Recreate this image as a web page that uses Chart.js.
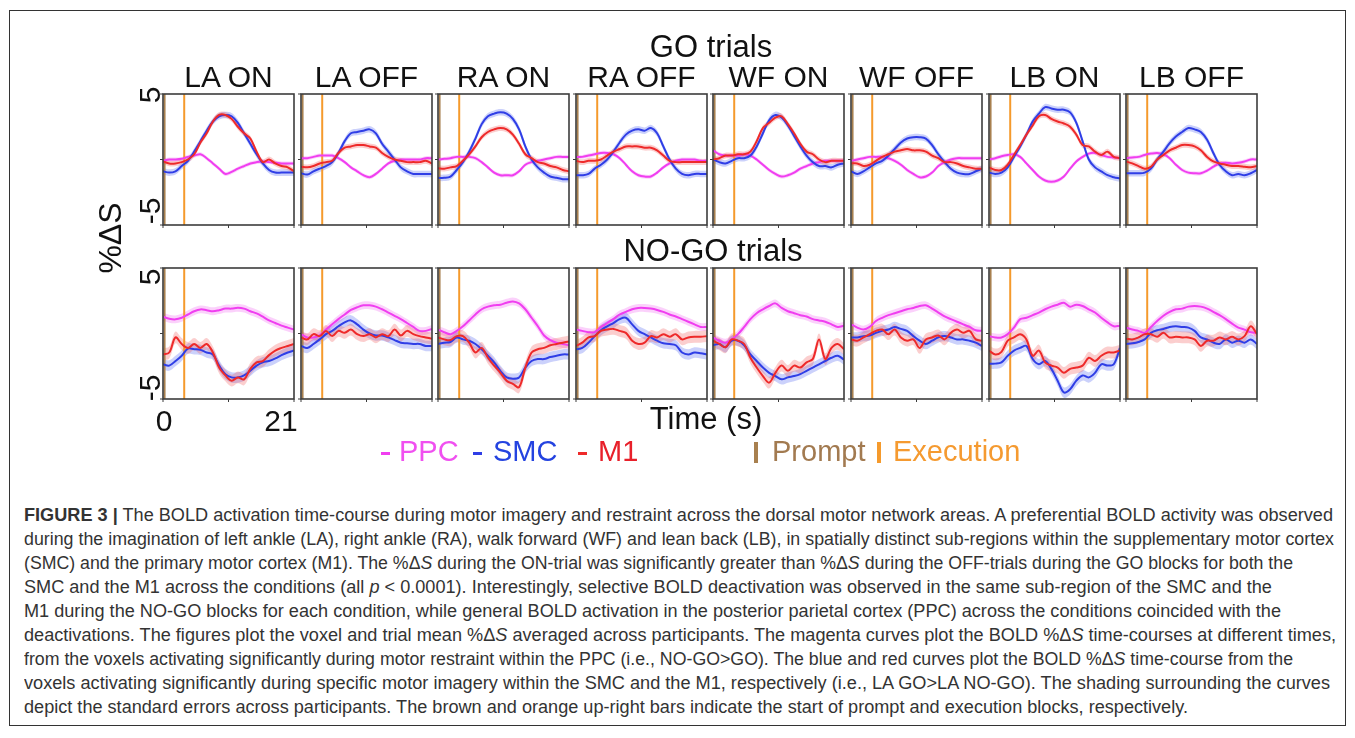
<!DOCTYPE html>
<html>
<head>
<meta charset="utf-8">
<script src="https://cdn.jsdelivr.net/npm/chart.js@4.4.0/dist/chart.umd.min.js"></script>
<style>
  body { margin: 0; background: #fff; width: 1355px; height: 738px; overflow: hidden; position: relative; font-family: "Liberation Sans", Arial, sans-serif; }
  .frame { position: absolute; left: 9px; top: 10px; width: 1337px; height: 716px; border: 1px solid #333; box-sizing: border-box; }
  .lbl { position: absolute; font-size: 30px; line-height: 30px; color: #111; white-space: nowrap; transform: translate(-50%, -50%); }
  .rot { transform: translate(-50%, -50%) rotate(-90deg); }
  .leg { position: absolute; font-size: 29px; line-height: 29px; white-space: nowrap; top: 437px; }
  .mark { position: absolute; }
  canvas { position: absolute; }
  #caption { position: absolute; left: 24px; top: 503px; font-family: "Liberation Sans", Arial, sans-serif; color: #333; font-size: 17.5px; }
  #caption div { line-height: 24px; white-space: nowrap; }
  #caption span { display: inline-block; transform-origin: 0 50%; }
</style>
</head>
<body>
<div class="frame"></div>

<script>
// time axis (s)
const timeSec = [0,1,2,3,4,5,6,7,8,9,10,11,12,13,14,15,16,17,18,19,20,21];
const conditions = ["LA ON","LA OFF","RA ON","RA OFF","WF ON","WF OFF","LB ON","LB OFF"];
const yTicks = [-5, 0, 5];
const xTicks = [0, 10.5, 21];
const promptTime = 0.25;
const execTime = 3.4;

// GO trials, %dS per panel
const goPPC = [
  [-0.1,0.0,0.0,0.05,0.2,0.3,0.4,0.1,-0.3,-0.7,-1.1,-0.95,-0.7,-0.5,-0.3,-0.2,-0.15,-0.2,-0.25,-0.3,-0.3,-0.3],
  [0.1,0.1,0.2,0.3,0.3,0.3,0.1,-0.2,-0.6,-0.9,-1.2,-1.35,-1.1,-0.7,-0.3,-0.1,0.0,0.0,0.0,0.0,0.1,0.1],
  [0.0,0.05,0.1,0.2,0.2,0.2,0.1,-0.2,-0.6,-1.0,-1.2,-1.2,-1.2,-0.9,-0.4,-0.2,-0.1,0.0,0.1,0.2,0.2,0.2],
  [0.2,0.2,0.3,0.4,0.5,0.5,0.4,0.1,-0.4,-0.9,-1.2,-1.3,-1.3,-1.0,-0.6,-0.3,-0.1,0.0,0.0,0.0,-0.1,-0.1],
  [0.7,0.4,0.3,0.3,0.3,0.4,0.3,0.0,-0.4,-0.8,-1.1,-1.3,-1.2,-1.0,-0.7,-0.5,-0.3,-0.2,-0.1,-0.1,-0.1,-0.1],
  [-0.1,0.0,0.1,0.2,0.2,0.2,0.1,-0.1,-0.4,-0.8,-1.1,-1.35,-1.3,-1.0,-0.5,-0.2,0.0,0.1,0.1,0.1,0.1,0.1],
  [0.0,0.1,0.25,0.35,0.4,0.2,-0.3,-0.8,-1.3,-1.6,-1.7,-1.6,-1.3,-0.7,-0.15,0.2,0.45,0.5,0.35,0.2,0.15,0.1],
  [0.1,0.15,0.2,0.35,0.45,0.5,0.4,0.1,-0.4,-0.8,-1.0,-1.05,-1.05,-0.85,-0.55,-0.3,-0.25,-0.3,-0.25,-0.15,0.0,0.0]
];
const goSMC = [
  [-0.9,-1.0,-0.9,-0.5,-0.1,0.6,1.4,2.2,2.9,3.3,3.4,3.3,2.8,2.0,1.2,0.4,-0.3,-0.8,-1.0,-1.0,-1.0,-1.0],
  [-1.05,-1.15,-0.9,-0.7,-0.5,-0.2,0.5,1.4,2.0,2.1,2.2,2.3,2.0,1.2,0.6,0.0,-0.6,-0.9,-1.1,-1.1,-1.1,-1.1],
  [-1.4,-1.4,-1.3,-0.8,-0.2,0.6,1.6,2.7,3.3,3.5,3.6,3.5,3.1,2.3,1.0,0.0,-0.6,-1.0,-1.3,-1.4,-1.5,-1.5],
  [-1.2,-1.2,-1.1,-0.7,-0.4,0.0,0.6,1.3,1.9,2.2,2.3,2.2,2.4,2.0,1.0,0.0,-0.7,-1.1,-1.2,-1.1,-1.1,-1.1],
  [0.0,-0.2,-0.3,-0.1,0.1,0.1,0.3,1.0,2.0,3.0,3.4,3.2,2.6,1.8,1.0,0.3,-0.2,-0.5,-0.5,-0.6,-0.4,-0.3],
  [-0.9,-1.1,-0.9,-0.6,-0.3,-0.1,0.3,0.8,1.3,1.6,1.7,1.7,1.6,1.1,0.4,-0.2,-0.7,-1.0,-1.1,-1.1,-0.9,-0.7],
  [-1.0,-1.1,-1.0,-0.6,0.2,1.0,1.9,2.9,3.5,4.0,3.9,3.8,3.8,3.6,2.8,1.4,0.0,-0.6,-0.9,-1.2,-1.35,-1.45],
  [-1.05,-1.05,-1.05,-1.0,-0.7,0.0,0.6,1.25,1.75,2.1,2.4,2.3,2.1,1.5,0.5,-0.4,-0.9,-1.2,-1.1,-1.2,-1.05,-0.8]
];
const goM1 = [
  [-0.15,-0.3,-0.3,-0.2,0.0,0.4,1.3,2.0,2.9,3.4,3.4,3.1,2.5,2.0,1.6,0.6,-0.2,0.0,-0.3,-0.5,-0.6,-0.9],
  [-0.55,-0.6,-0.5,-0.3,-0.2,-0.1,0.5,0.9,1.0,1.1,1.1,1.0,0.9,0.5,0.2,0.0,-0.1,-0.2,-0.2,-0.2,-0.1,-0.3],
  [-0.66,-0.7,-0.6,-0.5,-0.1,0.4,1.0,1.7,2.1,2.3,2.4,2.3,1.9,1.2,0.4,0.1,-0.2,-0.3,-0.5,-0.6,-0.8,-0.9],
  [-0.1,-0.2,-0.1,-0.1,0.0,0.3,0.6,0.8,1.0,1.0,1.0,0.9,0.9,0.7,0.3,-0.1,-0.2,-0.2,-0.2,-0.2,-0.2,-0.2],
  [0.0,0.1,0.3,0.3,0.4,0.4,0.6,1.4,2.4,2.8,3.2,3.3,2.7,2.0,1.2,0.6,0.4,0.0,-0.2,-0.1,-0.1,-0.1],
  [-0.3,-0.3,-0.5,-0.4,-0.1,0.2,0.4,0.6,0.7,0.8,0.7,0.7,0.6,0.3,0.1,-0.2,-0.2,-0.3,-0.5,-0.6,-0.7,-0.7],
  [-0.6,-0.8,-0.8,-0.4,0.35,1.1,1.9,2.6,3.3,3.4,3.1,2.9,2.75,2.5,1.9,1.1,1.0,0.6,0.35,0.6,0.2,0.1],
  [-0.15,-0.3,-0.5,-0.7,-0.55,0.0,0.35,0.7,0.9,1.1,1.1,1.0,0.7,0.2,-0.15,-0.3,-0.4,-0.5,-0.5,-0.55,-0.6,-0.5]
];

// NO-GO trials
const nogoPPC = [
  [1.28,1.13,1.08,1.2,1.45,1.7,1.84,1.78,1.7,1.78,1.9,1.9,1.96,1.9,1.7,1.53,1.28,1.0,0.8,0.6,0.45,0.3],
  [-0.05,-0.3,-0.3,-0.15,0.3,0.7,1.1,1.45,1.8,2.0,2.15,2.15,2.05,1.85,1.6,1.35,1.1,0.8,0.5,0.2,0.2,0.35],
  [0.3,0.1,-0.05,0.2,0.55,1.0,1.45,1.85,2.05,2.15,2.2,2.35,2.45,2.3,1.85,1.2,0.55,-0.15,-0.5,-0.7,-0.8,-0.9],
  [0.3,0.2,0.1,0.1,0.5,0.8,1.1,1.45,1.65,1.85,1.95,1.95,1.9,1.8,1.65,1.45,1.3,1.1,0.9,0.7,0.5,0.5],
  [-0.3,-0.55,-0.7,-0.45,-0.05,0.5,1.1,1.55,1.85,2.1,2.3,1.95,1.7,1.55,1.4,1.3,1.1,1.0,0.9,0.7,0.5,0.6],
  [0.7,0.45,0.3,0.5,0.95,1.2,1.4,1.55,1.7,1.85,1.95,2.1,2.15,1.9,1.6,1.3,1.1,0.9,0.7,0.5,0.25,0.2],
  [-0.2,-0.3,-0.3,-0.05,0.45,1.1,1.2,1.4,1.6,1.85,2.05,2.2,2.35,2.05,2.2,2.1,1.85,1.6,1.2,0.85,0.55,0.6],
  [0.45,0.3,0.2,0.05,0.5,0.95,1.35,1.65,1.85,1.9,2.05,2.1,2.05,1.9,1.65,1.4,1.1,0.75,0.45,0.3,0.1,0.05]
];
const nogoSMC = [
  [-2.35,-2.45,-2.1,-1.7,-1.15,-1.2,-1.25,-1.45,-1.6,-2.45,-3.1,-3.35,-3.35,-3.2,-2.85,-2.45,-2.2,-2.1,-1.9,-1.65,-1.45,-1.3],
  [-0.95,-1.1,-0.8,-0.45,-0.05,0.2,0.55,0.85,1.0,0.7,0.3,0.0,-0.15,-0.15,-0.3,-0.5,-0.7,-0.75,-0.8,-0.8,-0.95,-0.95],
  [-0.8,-0.7,-0.65,-0.3,-0.45,-0.55,-0.8,-1.2,-1.7,-2.2,-2.85,-3.35,-3.45,-3.35,-2.6,-2.1,-1.95,-1.95,-1.8,-1.7,-1.6,-1.6],
  [-1.2,-1.1,-0.7,-0.2,0.25,0.55,0.8,1.1,1.2,0.7,0.2,-0.05,-0.3,-0.55,-0.75,-0.8,-0.9,-1.45,-1.6,-1.45,-1.5,-1.6],
  [-0.9,-0.8,-1.05,-0.55,-0.55,-0.9,-1.6,-2.1,-2.6,-3.0,-3.25,-3.5,-3.35,-3.25,-3.1,-2.85,-2.6,-2.35,-2.1,-1.85,-1.7,-2.0],
  [-0.3,-0.3,-0.2,-0.15,0.05,0.2,0.3,0.5,0.35,0.2,-0.2,-0.55,-0.8,-0.55,-0.3,-0.2,-0.3,-0.45,-0.45,-0.55,-0.7,-0.95],
  [-2.3,-2.3,-2.2,-1.7,-1.3,-1.1,-0.95,-1.95,-2.35,-2.1,-2.7,-3.6,-4.5,-4.25,-3.6,-3.2,-3.35,-3.0,-2.35,-2.45,-2.35,-1.1],
  [-0.8,-0.75,-0.65,-0.45,0.05,0.25,0.35,0.5,0.55,0.5,0.45,0.2,-0.3,-0.45,-0.7,-0.8,-0.45,-0.7,-0.55,-0.7,-0.45,-0.8]
];
const nogoM1 = [
  [-1.6,-1.45,-0.3,-0.8,-1.1,-0.8,-1.1,-0.8,-1.45,-2.6,-3.2,-3.6,-3.35,-3.5,-2.7,-2.2,-2.1,-1.65,-1.3,-1.1,-0.95,-0.8],
  [-0.3,-0.45,-0.05,-0.2,0.2,-0.2,0.2,0.05,0.3,-0.05,-0.2,-0.05,-0.3,-0.05,-0.2,0.3,-0.15,0.2,-0.05,-0.2,-0.3,-0.4],
  [-0.3,-0.45,-0.5,-0.2,-0.2,-0.7,-1.45,-1.1,-1.85,-2.45,-3.0,-3.6,-3.85,-4.1,-2.6,-1.45,-1.2,-1.1,-0.9,-0.8,-0.7,-0.6],
  [-0.95,-0.7,-0.3,-0.2,0.2,0.3,0.35,0.2,0.05,-0.55,-0.8,-0.7,-0.2,-0.3,-0.05,-0.25,-0.05,-0.45,-0.3,-0.25,-0.25,-0.2],
  [-0.55,-0.8,-1.05,-0.45,-0.55,-0.8,-1.85,-2.6,-3.25,-3.75,-3.0,-2.45,-2.85,-2.45,-2.6,-2.2,-1.95,-0.45,-1.95,-1.1,-0.8,-1.2],
  [-0.45,-0.55,-0.3,-0.05,0.2,0.3,-0.05,0.3,-0.3,-0.55,-0.45,-1.1,-0.45,-0.3,-0.15,-0.45,0.05,0.3,0.05,0.2,-0.45,-0.55],
  [-1.3,-1.6,-1.4,-0.55,-0.3,-0.05,-0.45,-1.7,-1.3,-2.2,-2.45,-2.6,-3.0,-2.7,-2.6,-2.45,-1.85,-2.1,-1.7,-1.45,-1.45,-1.3],
  [-0.4,-0.45,-0.3,-0.05,-0.05,-0.25,0.05,-0.3,-0.25,-0.3,-0.3,-0.45,-0.95,-0.55,-0.55,-0.3,-0.45,-0.25,-0.45,-0.2,0.55,-0.05]
];

// standard errors (PPC, SMC, M1)
const seGo = [0.15, 0.25, 0.22];
const seNogo = [0.3, 0.4, 0.45];

const colors = {
  PPC: "#f03ef0", SMC: "#2f3ee6", M1: "#ee2a2a",
  prompt: "#a8804f", exec: "#f59a2c"
};
const bandColors = {
  PPC: "rgba(240,90,240,0.28)", SMC: "rgba(70,90,240,0.28)", M1: "rgba(240,80,80,0.28)"
};

const PAD = 8;
const panelW = 131, panelH = 131;
const rowTops = [94, 268];

// frame + outward ticks drawn on the chart area
const framePlugin = {
  id: "frame",
  afterDraw(chart) {
    const { ctx, chartArea: a, scales } = chart;
    ctx.save();
    ctx.strokeStyle = "#3c3c3c";
    ctx.lineWidth = 1.6;
    ctx.strokeRect(a.left, a.top, a.right - a.left, a.bottom - a.top);
    ctx.lineWidth = 1;
    ctx.beginPath();
    yTicks.forEach(v => {
      const y = scales.y.getPixelForValue(v);
      ctx.moveTo(a.left - 3, y); ctx.lineTo(a.left, y);
    });
    xTicks.forEach(v => {
      const x = scales.x.getPixelForValue(v);
      ctx.moveTo(x, a.bottom); ctx.lineTo(x, a.bottom + 3);
    });
    ctx.stroke();
    ctx.restore();
  }
};

function pts(arr) {
  return arr.map((v, i) => ({ x: timeSec[i], y: v }));
}

function makePanel(left, top, ppc, smc, m1, se) {
  const c = document.createElement("canvas");
  c.width = panelW + 2 * PAD;
  c.height = panelH + 2 * PAD;
  c.style.left = (left - PAD) + "px";
  c.style.top = (top - PAD) + "px";
  document.body.appendChild(c);

  const series = [["M1", m1, se[2]], ["SMC", smc, se[1]], ["PPC", ppc, se[0]]];
  const datasets = [];
  series.forEach(([name, arr], k) => {
    datasets.push({
      label: name, data: pts(arr), borderColor: colors[name], borderWidth: 2,
      pointRadius: 0, tension: 0.35, fill: false, order: k + 1
    });
  });
  datasets.push({ label: "Prompt", data: [{ x: promptTime, y: -5 }, { x: promptTime, y: 5 }],
    borderColor: colors.prompt, borderWidth: 2, pointRadius: 0, order: 4 });
  datasets.push({ label: "Execution", data: [{ x: execTime, y: -5 }, { x: execTime, y: 5 }],
    borderColor: colors.exec, borderWidth: 2, pointRadius: 0, order: 4 });
  series.forEach(([name, arr, e], k) => {
    const lowerIndex = datasets.length + 1;
    datasets.push({
      label: name + " +se", data: pts(arr.map(v => v + e)), borderWidth: 0, pointRadius: 0,
      tension: 0.35, fill: lowerIndex, backgroundColor: bandColors[name], order: 10 + k
    });
    datasets.push({
      label: name + " -se", data: pts(arr.map(v => v - e)), borderWidth: 0, pointRadius: 0,
      tension: 0.35, fill: false, order: 10 + k
    });
  });

  return new Chart(c, {
    type: "line",
    data: { datasets },
    options: {
      responsive: false,
      animation: false,
      devicePixelRatio: 1,
      layout: { padding: PAD },
      scales: {
        x: { type: "linear", min: 0, max: 21, display: false },
        y: { min: -5, max: 5, display: false }
      },
      plugins: { legend: { display: false }, tooltip: { enabled: false } }
    },
    plugins: [framePlugin]
  });
}

function label(text, x, y, opts = {}) {
  const d = document.createElement("div");
  d.className = "lbl" + (opts.rot ? " rot" : "");
  d.innerHTML = text;
  d.style.left = x + "px";
  d.style.top = y + "px";
  if (opts.size) { d.style.fontSize = opts.size + "px"; d.style.lineHeight = opts.size + "px"; }
  document.body.appendChild(d);
}

conditions.forEach((name, i) => {
  const left = Math.round(163 + i * 137.6);
  makePanel(left, rowTops[0], goPPC[i], goSMC[i], goM1[i], seGo);
  makePanel(left, rowTops[1], nogoPPC[i], nogoSMC[i], nogoM1[i], seNogo);
  label(name, left + panelW / 2, 77);
});

label("GO trials", 711, 46, { size: 31 });
label("NO-GO trials", 713, 250, { size: 31 });
label("Time (s)", 706, 418, { size: 31 });
label("0", 164, 421);
label("21", 281, 421);
label("5", 150, 95, { rot: true });
label("-5", 150, 211, { rot: true });
label("5", 150, 277, { rot: true });
label("-5", 150, 388, { rot: true });
label("%ΔS", 110, 238, { rot: true, size: 32 });

// legend
function legText(text, x, color) {
  const d = document.createElement("div");
  d.className = "leg";
  d.textContent = text;
  d.style.left = x + "px";
  d.style.color = color;
  document.body.appendChild(d);
}
function legMark(x, y, w, h, color) {
  const d = document.createElement("div");
  d.className = "mark";
  Object.assign(d.style, { left: x + "px", top: y + "px", width: w + "px", height: h + "px", background: color });
  document.body.appendChild(d);
}
legMark(381, 452, 9, 2.5, colors.PPC);  legText("PPC", 399, "#f050f0");
legMark(473, 452, 9, 2.5, colors.SMC);  legText("SMC", 493, "#2443e0");
legMark(578, 452, 9, 2.5, colors.M1);   legText("M1", 598, "#e8202a");
legMark(754, 442, 3.5, 21, colors.prompt); legText("Prompt", 772, "#a27a50");
legMark(877, 442, 3.5, 21, colors.exec);   legText("Execution", 893, "#f59a30");
</script>

<div id="caption">
  <div><span data-r="1333"><b>FIGURE 3 |</b> The BOLD activation time-course during motor imagery and restraint across the dorsal motor network areas. A preferential BOLD activity was observed</span></div>
  <div><span data-r="1334">during the imagination of left ankle (LA), right ankle (RA), walk forward (WF) and lean back (LB), in spatially distinct sub-regions within the supplementary motor cortex</span></div>
  <div><span data-r="1293">(SMC) and the primary motor cortex (M1). The %Δ<i>S</i> during the ON-trial was significantly greater than %Δ<i>S</i> during the OFF-trials during the GO blocks for both the</span></div>
  <div><span data-r="1272">SMC and the M1 across the conditions (all <i>p</i> &lt; 0.0001). Interestingly, selective BOLD deactivation was observed in the same sub-region of the SMC and the</span></div>
  <div><span data-r="1281">M1 during the NO-GO blocks for each condition, while general BOLD activation in the posterior parietal cortex (PPC) across the conditions coincided with the</span></div>
  <div><span data-r="1336">deactivations. The figures plot the voxel and trial mean %Δ<i>S</i> averaged across participants. The magenta curves plot the BOLD %Δ<i>S</i> time-courses at different times,</span></div>
  <div><span data-r="1293">from the voxels activating significantly during motor restraint within the PPC (i.e., NO-GO&gt;GO). The blue and red curves plot the BOLD %Δ<i>S</i> time-course from the</span></div>
  <div><span data-r="1330">voxels activating significantly during specific motor imagery within the SMC and the M1, respectively (i.e., LA GO&gt;LA NO-GO). The shading surrounding the curves</span></div>
  <div><span data-r="1188">depict the standard errors across participants. The brown and orange up-right bars indicate the start of prompt and execution blocks, respectively.</span></div>
</div>
<script>
  // squeeze each caption line to the width it has in the reference (condensed face)
  document.querySelectorAll("#caption span[data-r]").forEach(s => {
    const w = s.getBoundingClientRect().width;
    const target = +s.dataset.r - 24;
    s.style.transform = "scaleX(" + (target / w).toFixed(4) + ")";
  });
</script>
</body>
</html>
